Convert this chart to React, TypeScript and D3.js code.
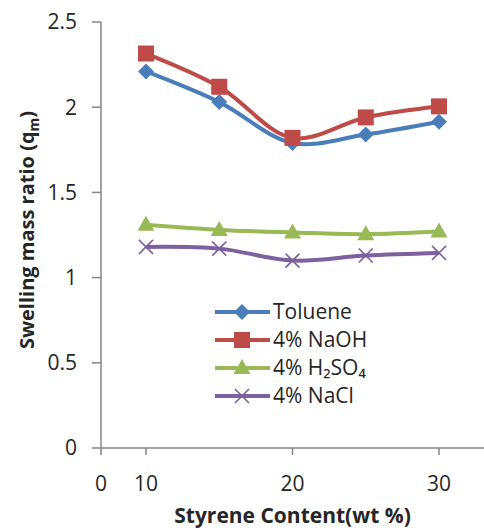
import React from "react";
import { scaleLinear, line, curveCatmullRom } from "d3";

const styrene = [10, 15, 20, 25, 30];
const toluene = [2.21, 2.03, 1.79, 1.84, 1.915];
const naoh = [2.315, 2.12, 1.82, 1.94, 2.005];
const h2so4 = [1.31, 1.28, 1.265, 1.255, 1.27];
const nacl = [1.18, 1.17, 1.1, 1.13, 1.145];

const yTicks = [0, 0.5, 1, 1.5, 2, 2.5];
const xTicks = [0, 10, 20, 30];

const seriesList = [
  { name: "Toluene", values: toluene, color: "#4a7ebb", marker: "diamond" },
  { name: "4% NaOH", values: naoh, color: "#be4b48", marker: "square" },
  { name: "4% H₂SO₄", values: h2so4, color: "#98b954", marker: "triangle" },
  { name: "4% NaCl", values: nacl, color: "#7d60a0", marker: "cross" },
];

const W = 484;
const H = 531;
const font = "'Open Sans', sans-serif";
const axisColor = "#868686";
const textColor = "#262626";

const Marker = ({ kind, x, y, color }) => {
  if (kind === "diamond")
    return <path d={`M${x},${y - 8}L${x + 8},${y}L${x},${y + 8}L${x - 8},${y}Z`} fill={color} />;
  if (kind === "square")
    return <rect x={x - 8} y={y - 8} width={16} height={16} fill={color} />;
  if (kind === "triangle")
    return <path d={`M${x},${y - 9}L${x + 8.5},${y + 6}L${x - 8.5},${y + 6}Z`} fill={color} />;
  // cross
  return (
    <path
      d={`M${x - 7},${y - 7}L${x + 7},${y + 7}M${x - 7},${y + 7}L${x + 7},${y - 7}`}
      stroke={color}
      strokeWidth={1.6}
      fill="none"
    />
  );
};

export default function App() {
  const margin = { left: 101, top: 22, right: 0, bottom: 84 };
  const x = scaleLinear()
    .domain([6.93, 33.07])
    .range([margin.left, W - margin.right])
    .clamp(true);
  const y = scaleLinear().domain([0, 2.5]).range([H - margin.bottom + 1, margin.top]);
  const y0 = y(0);

  const path = line<number>()
    .x((_, i) => x(styrene[i]))
    .y((d) => y(d))
    .curve(curveCatmullRom);

  const legendX = 215;
  const legendY = 312;
  const legendStep = 28;

  return (
    <svg
      width={W}
      height={H}
      style={{ position: "absolute", left: 0, top: 0, background: "#fff" }}
      fontFamily={font}
    >
      {/* y axis */}
      <line x1={x.range()[0]} x2={x.range()[0]} y1={y(2.5)} y2={y0} stroke={axisColor} strokeWidth={1.5} />
      {yTicks.map((t) => (
        <g key={t}>
          <line x1={x.range()[0] - 9} x2={x.range()[0]} y1={y(t)} y2={y(t)} stroke={axisColor} strokeWidth={1.5} />
          <text x={77} y={y(t)} dy="0.35em" textAnchor="end" fontSize={21} fill={textColor}>
            {t}
          </text>
        </g>
      ))}
      {/* x axis */}
      <line x1={x.range()[0]} x2={x.range()[1]} y1={y0} y2={y0} stroke={axisColor} strokeWidth={1.5} />
      {xTicks.map((t) => (
        <g key={t}>
          <line x1={x(t)} x2={x(t)} y1={y0} y2={y0 + 7} stroke={axisColor} strokeWidth={1.5} />
          <text x={x(t)} y={y0 + 43} textAnchor="middle" fontSize={21} fill={textColor}>
            {t}
          </text>
        </g>
      ))}

      {/* series */}
      {seriesList.map((s) => (
        <g key={s.name}>
          <path d={path(s.values) || ""} fill="none" stroke={s.color} strokeWidth={4} />
          {s.values.map((v, i) => (
            <Marker key={i} kind={s.marker} x={x(styrene[i])} y={y(v)} color={s.color} />
          ))}
        </g>
      ))}

      {/* legend */}
      {seriesList.map((s, i) => {
        const ly = legendY + i * legendStep;
        return (
          <g key={s.name}>
            <line x1={legendX} x2={legendX + 55} y1={ly} y2={ly} stroke={s.color} strokeWidth={4} />
            <Marker kind={s.marker} x={legendX + 27} y={ly} color={s.color} />
            <text x={legendX + 58} y={ly} dy="0.35em" fontSize={21} fill={textColor}>
              {s.name}
            </text>
          </g>
        );
      })}

      {/* axis titles */}
      <text
        x={(x.range()[0] + x.range()[1]) / 2}
        y={523}
        textAnchor="middle"
        fontSize={21}
        fontWeight="bold"
        fill={textColor}
      >
        Styrene Content(wt %)
      </text>
      <text
        transform={`translate(34,${230}) rotate(-90)`}
        textAnchor="middle"
        fontSize={20}
        fontWeight="bold"
        fill={textColor}
      >
        Swelling mass ratio (q
        <tspan fontSize={14} dy={5}>m</tspan>
        <tspan dy={-5}>)</tspan>
      </text>
    </svg>
  );
}
